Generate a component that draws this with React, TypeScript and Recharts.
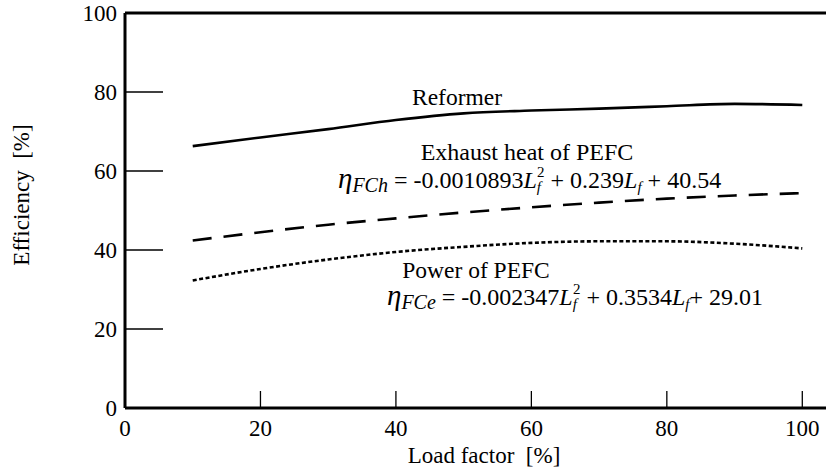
import { Label, Line, LineChart, ReferenceLine, XAxis, YAxis } from "recharts";

const loadFactor = [10, 20, 30, 40, 50, 60, 70, 80, 90, 100];
const reformer = [66.3, 68.5, 70.6, 72.9, 74.6, 75.3, 75.8, 76.4, 77.0, 76.7];
const exhaustHeat = [42.4, 44.5, 46.4, 48.0, 49.5, 50.8, 52.0, 53.0, 53.8, 54.4];
const power = [32.3, 35.2, 37.6, 39.5, 40.8, 41.8, 42.2, 42.2, 41.6, 40.4];
const xTicks = [0, 20, 40, 60, 80, 100];
const yTicks = [0, 20, 40, 60, 80, 100];

const rows = loadFactor.map((lf, i) => ({
  lf,
  reformer: reformer[i],
  exhaust: exhaustHeat[i],
  power: power[i],
}));

const FONT = "'Liberation Serif', 'Times New Roman', serif";
const Y_MARGIN = 8;
const X_MARGIN = 11;

function YTick(props: any) {
  const { x, y, payload } = props;
  const axisX = x + Y_MARGIN;
  return (
    <g>
      <line x1={axisX} x2={axisX + 38} y1={y} y2={y} stroke="#000" strokeWidth={1.3} />
      <text x={x} y={y} dy="0.35em" textAnchor="end" style={{ fontFamily: FONT }} fontSize={23} fill="#000">
        {payload.value}
      </text>
    </g>
  );
}

function XTick(props: any) {
  const { x, y, payload } = props;
  const axisY = y - X_MARGIN;
  return (
    <g>
      <line x1={x} x2={x} y1={axisY} y2={axisY - 17} stroke="#000" strokeWidth={1.3} />
      <text x={x} y={y} dy="0.75em" textAnchor="middle" style={{ fontFamily: FONT }} fontSize={23} fill="#000">
        {payload.value}
      </text>
    </g>
  );
}

// equation: eta_sub = head L_f^2 + mid L_f + tail
function Equation({ x, y, sub, head, mid, tail }: any) {
  return (
    <text x={x} y={y} fontSize={24} fill="#000" style={{ fontFamily: FONT }}>
      <tspan fontStyle="italic" fontSize={29}>η</tspan>
      <tspan fontStyle="italic" fontSize={20} dy={4}>{sub}</tspan>
      <tspan dy={-4}>{head}</tspan>
      <tspan fontStyle="italic">L</tspan>
      <tspan fontStyle="italic" fontSize={15} dy={4}>f</tspan>
      <tspan fontSize={15} dx={-4} dy={-15}>2</tspan>
      <tspan dy={11}>{mid}</tspan>
      <tspan fontStyle="italic">L</tspan>
      <tspan fontStyle="italic" fontSize={15} dy={4}>f</tspan>
      <tspan dy={-4}>{tail}</tspan>
    </text>
  );
}

function Annotations() {
  const base = { fill: "#000", style: { fontFamily: FONT } };
  return (
    <svg
      width={827}
      height={474}
      style={{ position: "absolute", left: 0, top: 0, pointerEvents: "none" }}
    >
      <text x={457} y={105} textAnchor="middle" fontSize={23.5} {...base}>
        Reformer
      </text>
      <text x={527} y={160} textAnchor="middle" fontSize={24} {...base}>
        Exhaust heat of PEFC
      </text>
      <Equation x={338} y={188} sub="FCh" head=" = -0.0010893" mid=" + 0.239" tail=" + 40.54" />
      <text x={476} y={278} textAnchor="middle" fontSize={23.5} {...base}>
        Power of PEFC
      </text>
      <Equation x={387} y={305} sub="FCe" head=" = -0.002347" mid=" + 0.3534" tail="+ 29.01" />
    </svg>
  );
}

export default function App() {
  return (
    <div style={{ position: "absolute", left: 0, top: 0, width: 827, height: 474, background: "#fff", fontFamily: FONT }}>
      <LineChart width={827} height={474} data={rows} margin={{ top: 13, right: 1, bottom: 0, left: 0 }}>
        <XAxis
          dataKey="lf"
          type="number"
          domain={[0, 103.5]}
          ticks={xTicks}
          allowDataOverflow
          height={66}
          tickSize={0}
          tickMargin={X_MARGIN}
          tickLine={false}
          axisLine={{ stroke: "#000", strokeWidth: 3 }}
          tick={<XTick />}
        >
          <Label
            content={() => (
              <text x={484} y={463} textAnchor="middle" style={{ fontFamily: FONT }} fontSize={23} fill="#000">
                {"Load factor\u00a0\u00a0[%]"}
              </text>
            )}
          />
        </XAxis>
        <YAxis
          type="number"
          domain={[0, 100]}
          ticks={yTicks}
          width={125}
          tickSize={0}
          tickMargin={Y_MARGIN}
          tickLine={false}
          axisLine={{ stroke: "#000", strokeWidth: 3 }}
          tick={<YTick />}
        >
          <Label
            content={() => (
              <text
                x={21}
                y={195}
                textAnchor="middle"
                transform="rotate(-90 21 195)"
                dy="0.35em"
                style={{ fontFamily: FONT }}
                fontSize={23}
                fill="#000"
              >
                {"Efficiency\u00a0\u00a0[%]"}
              </text>
            )}
          />
        </YAxis>
        <ReferenceLine y={100} stroke="#000" strokeWidth={3} />
        <Line
          type="monotone"
          dataKey="reformer"
          stroke="#000"
          strokeWidth={2.6}
          dot={false}
          isAnimationActive={false}
        />
        <Line
          type="monotone"
          dataKey="exhaust"
          stroke="#000"
          strokeWidth={2.6}
          strokeDasharray="19 12"
          dot={false}
          isAnimationActive={false}
        />
        <Line
          type="monotone"
          dataKey="power"
          stroke="#000"
          strokeWidth={2.6}
          strokeDasharray="4 2.5"
          dot={false}
          isAnimationActive={false}
        />
      </LineChart>
      <Annotations />
    </div>
  );
}
